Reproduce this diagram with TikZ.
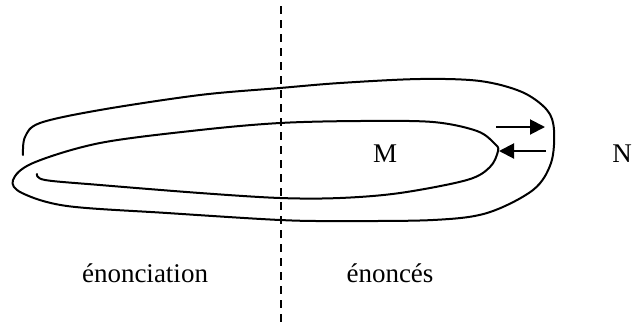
\documentclass[tikz,border=0pt]{standalone}
\usepackage{fontspec}
\setmainfont{Liberation Serif}
\usetikzlibrary{arrows.meta}
\tikzset{
  spiral/.style={line width=2pt, line cap=round, line join=round},
  divider/.style={line width=2pt, dash pattern=on 8pt off 6pt},
  flowarrow/.style={-{Triangle[length=15pt,width=15pt]}, line width=2pt},
  label/.style={inner sep=0pt, anchor=base, font=\fontsize{27}{32}\selectfont}
}
\begin{document}
\begin{tikzpicture}[x=1pt, y=-1pt]
        \useasboundingbox (0,0) rectangle (632,322);
        \draw[divider] (281,6) -- (281,322);
        \draw[spiral] plot[smooth, tension=0.55] coordinates {
          (23,155) (25,137) (40,123) (100,110) (200,95) (280,88) (340,83) (420,79)
          (480,81) (522,92) (547,110) (554,130) (551,163) (533,190) (487,213)
          (433,220) (340,221) (280,220) (167,213) (67,206) (22,193) (13,180)
          (33,163) (100,143) (200,130) (280,123) (360,121) (433,122) (477,131)
          (495,144) (498,151) (490,167) (467,180) (400,193) (340,198) (280,198)
          (200,193) (100,185) (45,180) (37,174)};
        \coordinate (outA) at (496,127);
        \coordinate (outB) at (545,127);
        \coordinate (inA) at (546,151);
        \coordinate (inB) at (499,151);
        \draw[flowarrow] (outA) -- (outB);
        \draw[flowarrow] (inA) -- (inB);
        \node[label] (m) at (385,162) {M};
        \node[label] (n) at (622,162) {N};
        \node[label] (enonciation) at (145,282) {énonciation};
        \node[label] (enonces) at (390,282) {énoncés};
      \end{tikzpicture}
\end{document}
